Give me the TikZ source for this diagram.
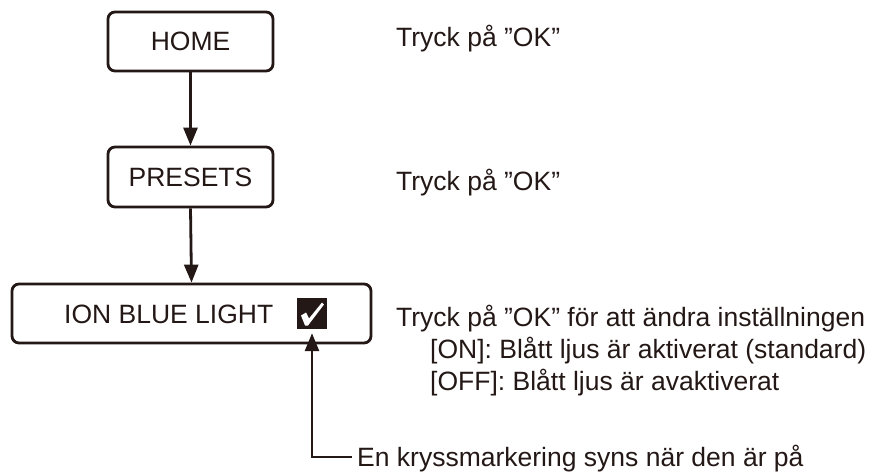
\documentclass[tikz,border=0pt]{standalone}
\usepackage{fontspec}
\setmainfont{Liberation Sans}
\usetikzlibrary{arrows.meta}
\definecolor{ink}{HTML}{231815}
\begin{document}
\begin{tikzpicture}[x=1pt,y=-1pt,
  every node/.style={font=\fontsize{26.5}{31}\selectfont, text=ink},
  menubox/.style={draw=ink, line width=2.8pt, rounded corners=7pt, inner sep=0pt},
  note/.style={anchor=base west, inner sep=0pt},
  arr/.style={draw=ink, line width=2.8pt, -{Triangle[length=18pt,width=14pt]}}]
\useasboundingbox (0,0) rectangle (875,472);
\node[menubox, minimum width=165pt, minimum height=59pt] (home) at (190.5,41.5) {HOME};
\node[menubox, minimum width=165pt, minimum height=60pt] (presets) at (190.5,177) {PRESETS};
\node[menubox, minimum width=359pt, minimum height=59pt] (ion) at (191.5,313.5) {};
\node[anchor=base west, inner sep=0pt] (iontext) at (64,323) {ION BLUE LIGHT};
\node[fill=ink, minimum width=30pt, minimum height=31pt, inner sep=0pt] (chk) at (312,313.5) {};
\fill[white] ([shift={(-11,2)}]chk.center) -- ([shift={(-6,-1)}]chk.center)
  -- ([shift={(-3,5)}]chk.center) -- ([shift={(10,-11)}]chk.center)
  -- ([shift={(12,-9)}]chk.center) -- ([shift={(-4,12)}]chk.center)
  -- ([shift={(-7,12)}]chk.center) -- cycle;
\draw[arr] (home.south) -- (presets.north);
\draw[arr] (presets.south) -- (ion.north);
\node[note] (t1) at (396,46) {Tryck på ”OK”};
\node[note] (t2) at (396,190) {Tryck på ”OK”};
\node[note] (t3) at (396,326) {Tryck på ”OK” för att ändra inställningen};
\node[note] (t4) at (430,358) {[ON]: Blått ljus är aktiverat (standard)};
\node[note] (t5) at (430,390) {[OFF]: Blått ljus är avaktiverat};
\node[note] (t6) at (357,466) {En kryssmarkering syns när den är på};
\coordinate (lineend) at (352,457);
\draw[arr, shorten >=4pt] (lineend) -| (chk.south);
\end{tikzpicture}
\end{document}
